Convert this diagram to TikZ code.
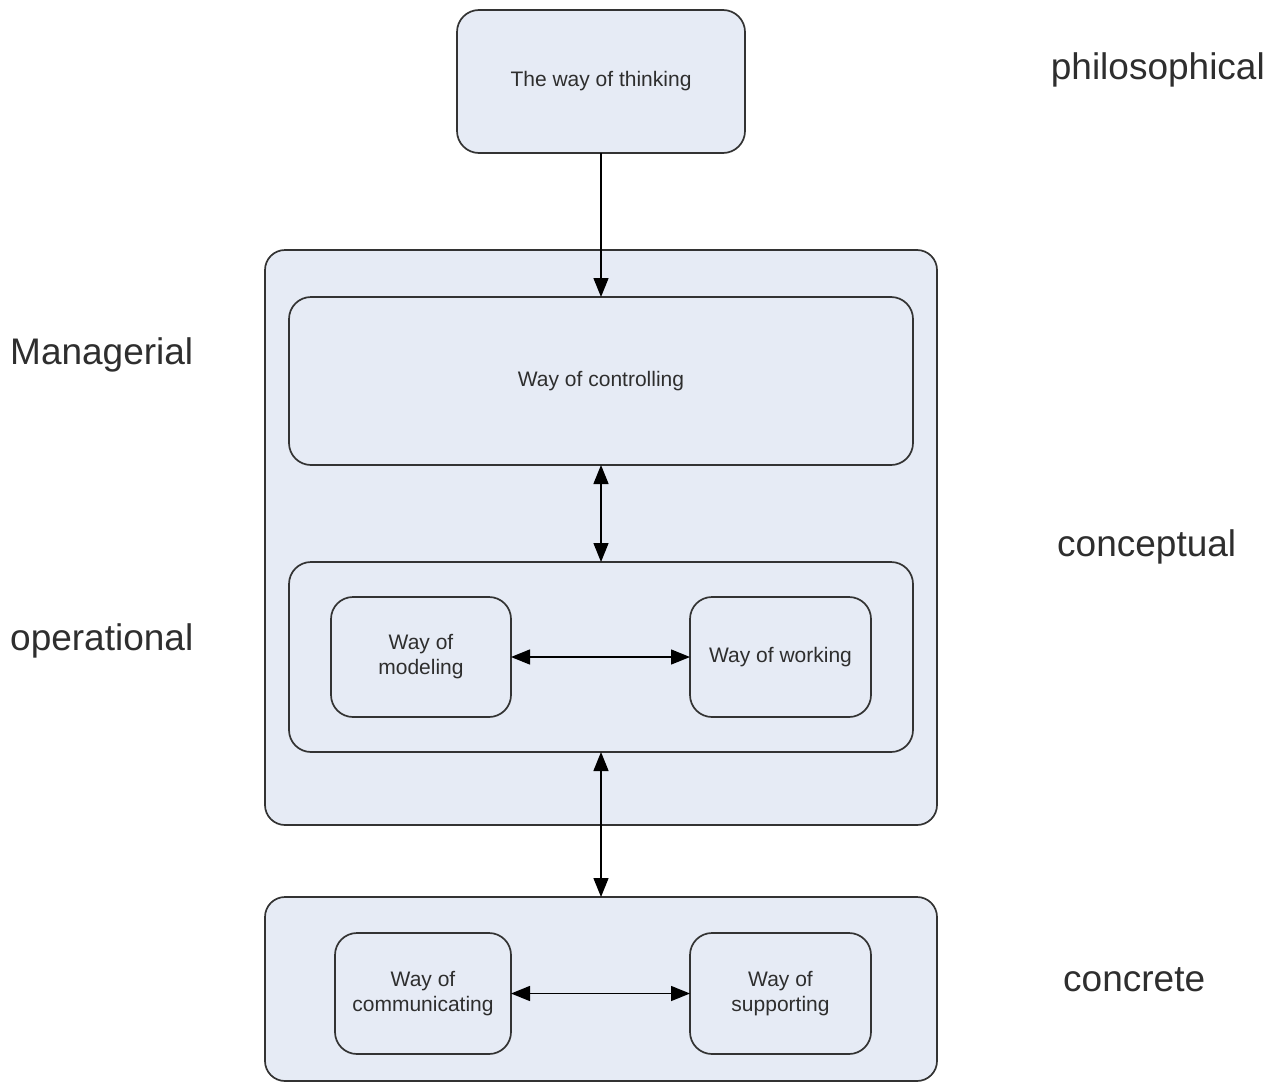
\documentclass[tikz,border=0pt]{standalone}
\usepackage{fontspec}
\setmainfont{Liberation Sans}
\usetikzlibrary{arrows.meta}
\definecolor{boxfill}{HTML}{E6EBF5}
\definecolor{boxline}{HTML}{333333}
\definecolor{boxtext}{HTML}{2E2E2E}
\begin{document}
\begin{tikzpicture}[x=1pt,y=-1pt,
  box/.style={draw=boxline, fill=boxfill, line width=1.7pt, rounded corners=22pt,
    inner sep=0pt, outer sep=0pt, align=center, text=boxtext,
    font=\fontsize{21}{25}\selectfont},
  level/.style={font=\fontsize{37}{44}\selectfont, inner sep=0pt, text=boxtext},
  tip/.tip={Triangle[length=19pt,width=15pt]},
  link/.style={line width=1.4pt, draw=black, -tip},
  both/.style={line width=1.4pt, draw=black, tip-tip}]
\useasboundingbox (0,0) rectangle (1271,1084);

% top level
\node[box, minimum width=288pt, minimum height=143pt] (think) at (601,81.5) {The way of thinking};

% conceptual container and its parts
\node[box, rounded corners=20pt, minimum width=672pt, minimum height=575pt] (concept) at (601,537.5) {};
\node[box, minimum width=624pt, minimum height=168pt] (control) at (601,381) {Way of controlling};
\node[box, minimum width=624pt, minimum height=190pt] (oper) at (601,657) {};
\node[box, minimum width=180pt, minimum height=120pt] (model) at (421,657) {Way of\\modeling};
\node[box, minimum width=181pt, minimum height=120pt] (work) at (780.5,657) {Way of working};

% concrete container
\node[box, rounded corners=20pt, minimum width=672pt, minimum height=184pt] (concrete) at (601,989) {};
\node[box, minimum width=176pt, minimum height=121pt] (comm) at (423,993.5) {Way of\\communicating};
\node[box, minimum width=181pt, minimum height=121pt] (support) at (780.5,993.5) {Way of\\supporting};

% connectors
\draw[link] (think.south) -- (control.north);
\draw[both] (control.south) -- (oper.north);
\draw[both] (model.east) -- (work.west);
\draw[both] (oper.south) -- (concrete.north);
\draw[both] (comm.east) -- (support.west);

% level labels
\node[level, anchor=east] (lphil) at (1265,70) {philosophical};
\node[level, anchor=west] (lman) at (10,355) {Managerial};
\node[level, anchor=west] (lconc) at (1057,547) {conceptual};
\node[level, anchor=west] (lop) at (10,641) {operational};
\node[level, anchor=west] (lcre) at (1063,980) {concrete};
\end{tikzpicture}
\end{document}
